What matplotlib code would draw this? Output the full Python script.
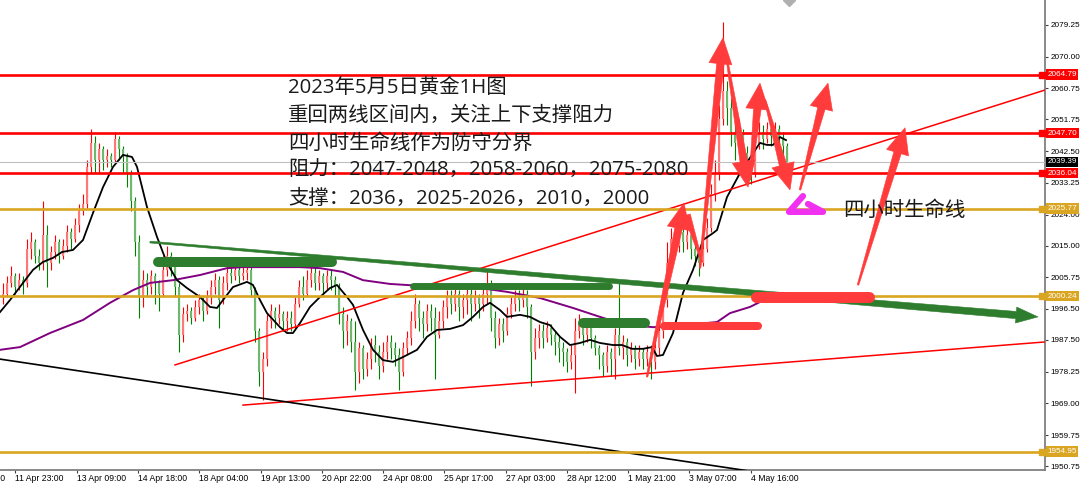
import numpy as np
import matplotlib
matplotlib.use("Agg")
import matplotlib.pyplot as plt
from matplotlib.patches import Polygon
from matplotlib.transforms import blended_transform_factory

plt.rcParams['font.family'] = ['Noto Sans CJK SC', 'DejaVu Sans']

# ---------------- data ----------------
first_open = 2000.0
close = [2001, 2004, 2006, 2003, 2005, 2004, 2014, 2016, 2012, 2010,
         2018, 2010, 2013, 2016, 2012, 2015, 2019, 2017, 2021, 2025,
         2027, 2038, 2045, 2040, 2043, 2040, 2041, 2040, 2046, 2043,
         2041, 2036, 2028, 2016, 2000, 2005, 2003, 2006, 2004, 2001,
         2008, 2012, 2009, 2003, 1989, 1995, 1996, 1994, 1997, 1999,
         1996, 2000, 2003, 2005, 1999, 2004, 2007, 2006, 2008, 2006,
         2007, 2008, 2002, 1990, 1978, 1982, 1993, 1996, 1994, 1995,
         1993, 1994, 1992, 1998, 2003, 2001, 2005, 2007, 2004, 2006,
         2004, 2006, 2005, 2003, 1995, 1990, 1993, 1987, 1978, 1985,
         1979, 1982, 1986, 1984, 1980, 1984, 1987, 1985, 1983, 1978,
         1985, 1988, 1993, 1998, 1994, 1992, 1996, 1994, 1989, 1993,
         1997, 2000, 1998, 2001, 1997, 1999, 2001, 1998, 2000, 1998,
         2001, 2004, 1994, 1988, 1992, 1990, 1995, 1998, 2000, 1999,
         2001, 1997, 1984, 1988, 1990, 1988, 1991, 1989, 1987, 1985,
         1984, 1981, 1983, 1990, 1992, 1989, 1991, 1988, 1985, 1983,
         1980, 1984, 1982, 1989, 1985, 1987, 1983, 1985, 1982, 1984,
         1982, 1984, 1981, 1985, 1990, 1999, 2010, 2017, 2015, 2019,
         2016, 2018, 2014, 2012, 2010, 2014, 2020, 2030, 2036, 2052,
         2060, 2055, 2048, 2045, 2048, 2042, 2038, 2036, 2044, 2048,
         2046, 2049, 2047, 2049, 2046, 2044, 2039.39]
high = [2004, 2006, 2009, 2007, 2007, 2006, 2017, 2019, 2017, 2014,
        2028, 2021, 2015, 2018, 2017, 2017, 2021, 2020, 2023, 2027,
        2030, 2040, 2049, 2047, 2045, 2044, 2043, 2042, 2048, 2047,
        2044, 2042, 2037, 2029, 2018, 2008, 2007, 2008, 2007, 2005,
        2012, 2015, 2013, 2010, 2004, 1997, 1998, 1997, 1999, 2001,
        2000, 2002, 2005, 2007, 2006, 2006, 2009, 2010, 2010, 2009,
        2009, 2010, 2009, 2003, 1991, 1984, 1995, 1998, 1997, 1998,
        1996, 1996, 1996, 2000, 2005, 2006, 2008, 2010, 2009, 2008,
        2007, 2008, 2008, 2006, 2004, 1997, 1995, 1994, 1993, 1987,
        1986, 1984, 1988, 1989, 1986, 1987, 1989, 1989, 1987, 1985,
        1987, 1990, 1996, 2001, 1999, 1996, 1998, 1998, 1997, 1996,
        1999, 2002, 2002, 2003, 2002, 2001, 2003, 2003, 2002, 2001,
        2003, 2008, 2005, 1996, 1994, 1994, 1997, 2000, 2002, 2002,
        2003, 2002, 1998, 1991, 1992, 1992, 1993, 1992, 1990, 1989,
        1987, 1985, 1986, 1994, 1995, 1994, 1993, 1992, 1989, 1986,
        1984, 1986, 1985, 1991, 2005, 1989, 1988, 1987, 1986, 1986,
        1985, 1986, 1986, 1987, 1993, 2003, 2016, 2020, 2020, 2021,
        2020, 2021, 2019, 2016, 2014, 2016, 2023, 2033, 2040, 2056,
        2080, 2063, 2058, 2050, 2052, 2049, 2044, 2040, 2046, 2051,
        2050, 2051, 2050, 2051, 2050, 2048, 2045]
low = [1998, 2000, 2003, 2001, 2002, 2001, 2003, 2011, 2010, 2008,
       2008, 2003, 2008, 2011, 2010, 2011, 2013, 2014, 2016, 2019,
       2024, 2026, 2036, 2036, 2036, 2037, 2038, 2038, 2039, 2040,
       2036, 2032, 2025, 2012, 1994, 1997, 2000, 2001, 1998, 1996,
       2000, 2006, 2006, 2000, 1984, 1987, 1993, 1992, 1993, 1995,
       1993, 1995, 1998, 2001, 1991, 1998, 2002, 2004, 2005, 2004,
       2005, 2005, 2000, 1987, 1974, 1970, 1980, 1991, 1991, 1992,
       1990, 1990, 1990, 1991, 1997, 1999, 2000, 2003, 2002, 2002,
       2001, 2002, 2002, 2000, 1992, 1985, 1986, 1984, 1973, 1975,
       1976, 1977, 1979, 1981, 1976, 1978, 1982, 1982, 1980, 1973,
       1977, 1983, 1986, 1991, 1990, 1988, 1990, 1990, 1976, 1988,
       1991, 1994, 1995, 1996, 1993, 1994, 1995, 1993, 1996, 1994,
       1996, 1998, 1990, 1985, 1986, 1987, 1989, 1994, 1996, 1996,
       1997, 1994, 1974, 1982, 1985, 1985, 1987, 1986, 1983, 1981,
       1980, 1978, 1979, 1972, 1988, 1986, 1987, 1985, 1983, 1979,
       1977, 1978, 1977, 1976, 1983, 1982, 1980, 1981, 1979, 1980,
       1979, 1980, 1976, 1979, 1983, 1988, 1997, 2008, 2012, 2013,
       2013, 2014, 2011, 2009, 2006, 2009, 2013, 2019, 2028, 2034,
       2050, 2050, 2044, 2040, 2043, 2038, 2034, 2033, 2035, 2043,
       2043, 2045, 2044, 2046, 2043, 2041, 2038]

# moving averages (bar index, price)
ma_fast_x = [-0.75, 1.75, 5, 7.5, 10, 12.5, 14.75, 17.5, 20, 22.5, 25, 27.5, 30, 32.25,
             33.5, 36, 38.5, 41, 43.5, 46, 49.25, 51.75, 53.5, 55, 57.5, 61, 62.5, 64.25,
             66, 69.25, 71, 72.5, 74.25, 76.75, 79.25, 81.75, 83.5, 86, 87.5, 90, 92.5,
             95, 97.5, 100, 103.5, 106, 108.5, 111.75, 115, 117.5, 120, 121.75, 124.25,
             126, 129.25, 131.75, 134.25, 136.75, 139.25, 141.75, 144.25, 146.75, 149.25,
             152.5, 154.75, 157.25, 160, 162.25, 163.5, 165, 167.5, 170, 172.5, 175,
             177.5, 178.5, 181, 184.25, 187.5, 189.25, 191, 192.5, 194.25, 195.75]
ma_fast_y = [1995.6, 1999.1, 2004.1, 2007.9, 2010.2, 2011.4, 2013.1, 2013.7, 2016.6, 2024.5,
             2032.0, 2037.9, 2041.4, 2040.8, 2037.9, 2026.2, 2017.5, 2009.9, 2004.9, 2002.6,
             2000.0, 1997.1, 1996.8, 1999.1, 2002.9, 2004.4, 2003.5, 1999.1, 1995.3, 1991.2,
             1989.5, 1989.5, 1992.4, 1997.1, 2000.0, 2002.6, 2003.5, 2000.0, 1997.7, 1990.4,
             1984.6, 1981.6, 1981.1, 1982.5, 1984.6, 1988.4, 1990.4, 1990.7, 1991.8, 1994.2,
             1997.1, 1998.3, 1996.2, 1994.2, 1994.8, 1994.2, 1992.7, 1991.8, 1988.4, 1986.0,
             1986.6, 1987.5, 1986.6, 1986.0, 1986.0, 1984.9, 1984.9, 1985.4, 1982.8, 1983.1,
             1989.5, 2001.2, 2007.9, 2016.6, 2018.6, 2019.5, 2029.1, 2036.1, 2041.9, 2044.9,
             2044.3, 2044.3, 2046.6, 2045.7]
ma_slow_x = [-0.75, 4.25, 11.75, 20, 26.75, 32.5, 36.75, 42.5, 49.25, 56, 60, 66, 74.25,
             79.25, 85, 90, 96.75, 105, 117.5, 126, 134.25, 142.5, 149.25, 155, 162.5,
             167.5, 178.5, 181.75, 186.75, 191.75]
ma_slow_y = [1984.6, 1985.4, 1989.5, 1993.3, 1998.3, 2002.0, 2004.1, 2004.9, 2006.4, 2008.4,
             2008.7, 2008.7, 2008.7, 2008.4, 2007.3, 2004.9, 2003.8, 2003.2, 2002.9, 2001.5,
             1999.7, 1996.8, 1994.2, 1992.1, 1991.2, 1991.5, 1992.7, 1995.3, 1997.1, 2000.0]

# horizontal levels
red_levels = [2064.79, 2047.70, 2036.04]
gold_levels = [2025.77, 2000.24, 1954.95]
last_price = 2039.39

# trend lines (bar index, price)
red_upper_x, red_upper_y = [43, 260.5], [1980.2, 2060.3]
red_lower_x, red_lower_y = [60, 260.5], [1968.5, 1986.9]
black_tl_x, black_tl_y = [-0.75, 190], [1981.9, 1948.7]
green_arrow_x, green_arrow_y = [36.75, 258.75], [2016.0, 1994.2]

# highlighter marks: (x start, x end, price)
green_marks = [(38.75, 82.25, 2010.2), (102.5, 151.5, 2003.2), (145.0, 160.5, 1992.4)]
green_marks_w = [7.2, 5.0, 7.2]
red_marks = [(165.25, 188.75, 1991.5), (188.25, 216.5, 2000.0)]
red_marks_w = [5.8, 7.9]

# hand drawn red arrows: tail (x, y) -> tip (x, y), has head
red_arrows = [((161.0, 1976.7), (170.25, 2027.4), True),
              ((171.0, 2023.9), (174.75, 2010.2), False),
              ((174.25, 2008.4), (180.0, 2075.5), True),
              ((181.0, 2069.1), (186.25, 2032.0), True),
              ((186.75, 2034.1), (189.25, 2062.3), True),
              ((190.5, 2057.4), (196.75, 2031.2), True),
              ((199.25, 2031.2), (206.25, 2062.3), True),
              ((213.75, 2003.5), (225.5, 2049.3), True)]

magenta_x = [200.0, 196.5, 205.0, 201.25]
magenta_y = [2029.4, 2024.8, 2024.8, 2027.1]

y_ticks = [2079.25, 2070.00, 2060.75, 2051.75, 2042.50, 2033.25, 2024.00, 2015.00,
           2005.75, 1996.50, 1987.50, 1978.25, 1969.00, 1959.75, 1950.75]
x_tick_pos = [3, 18.5, 33.75, 49, 64.5, 79.75, 95, 110.25, 125.75, 141, 156.25, 171.5, 187]
x_tick_labels = ["11 Apr 23:00", "13 Apr 09:00", "14 Apr 18:00", "18 Apr 04:00",
                 "19 Apr 13:00", "20 Apr 22:00", "24 Apr 08:00", "25 Apr 17:00",
                 "27 Apr 03:00", "28 Apr 12:00", "1 May 21:00", "3 May 07:00",
                 "4 May 16:00"]
prev_tick_pos, prev_tick_label = -12.25, "10 Apr 13:00"

notes = ["2023年5月5日黄金1H图",
         "重回两线区间内，关注上下支撑阻力",
         "四小时生命线作为防守分界",
         "阻力：2047-2048，2058-2060，2075-2080",
         "支撑：2036，2025-2026，2010，2000"]
notes_x = 71.25
notes_y = [2060.9, 2052.7, 2044.6, 2036.6, 2028.5]
label_text = "四小时生命线"
label_pos = (210.0, 2025.1)

# ---------------- figure ----------------
W, H = 1080, 483
fig = plt.figure(figsize=(W / 100, H / 100), dpi=100)
fig.patch.set_facecolor('white')
ax = fig.add_axes([0, 13 / H, 1045 / W, 470 / H])
ax.set_xlim(-0.75, 260.5)
ax.set_ylim(1949.59, 2086.53)
ax.set_facecolor('white')

TICKFONT = 'Liberation Sans'
FS = 6.2
FSY = 5.9
NOTEFONT = ['Open Sans', 'Noto Sans CJK SC', 'DejaVu Sans']
NOTESIZE = 14.7

# candles
c = np.array(close, float)
o = np.r_[first_open, c[:-1]]
hi = np.array(high, float)
lo = np.array(low, float)
xb = np.arange(len(c))
up = c >= o
wick_col = np.where(up, '#FF0000', '#008000')
body_col = np.where(up, '#FF7878', '#6DB86D')
ax.vlines(xb, lo, hi, colors=wick_col, lw=0.8, zorder=2)
ax.vlines(xb, np.minimum(o, c), np.maximum(o, c), colors=body_col, lw=1.5, zorder=2.1)

# moving averages
ax.plot(ma_slow_x, ma_slow_y, color='#800080', lw=1.4, zorder=3)
ax.plot(ma_fast_x, ma_fast_y, color='black', lw=1.3, zorder=3.1)

# trend lines
ax.plot(red_upper_x, red_upper_y, color='#FF0000', lw=1.1, zorder=3.5)
ax.plot(red_lower_x, red_lower_y, color='#FF0000', lw=1.1, zorder=3.5)
ax.plot(black_tl_x, black_tl_y, color='black', lw=1.2, zorder=3.5)

# horizontal levels
ax.axhline(last_price, color='#C0C0C0', lw=0.8, zorder=3.6)
for lv in red_levels:
    ax.axhline(lv, color='#FF0000', lw=1.9, zorder=4)
for lv in gold_levels:
    ax.axhline(lv, color='#DAA520', lw=1.9, zorder=4)


def tapered(p0, p1, w0, w1, head_len, head_w, color, z):
    t, p = ax.transData.transform([p0, p1])
    d = p - t
    L = np.hypot(*d)
    u = d / L
    n = np.array([-u[1], u[0]])
    if head_len > 0:
        hb = p - u * head_len
        pts = [t + n * w0, hb + n * w1, hb + n * head_w, p,
               hb - n * head_w, hb - n * w1, t - n * w0]
    else:
        pts = [t + n * w0, p + n * w1, p - n * w1, t - n * w0]
    data = ax.transData.inverted().transform(pts)
    ax.add_patch(Polygon(data, closed=True, fc=color, ec=color, lw=0.4, zorder=z))


# green descending arrow (thin -> thick)
tapered((green_arrow_x[0], green_arrow_y[0]), (green_arrow_x[1], green_arrow_y[1]),
        0.9, 3.6, 22, 8, '#2E7D2E', 5)

for (x0, x1, pv), w in zip(green_marks, green_marks_w):
    ax.plot([x0, x1], [pv, pv], color='#2E7D2E', lw=w, solid_capstyle='round', zorder=5.1)
for (x0, x1, pv), w in zip(red_marks, red_marks_w):
    ax.plot([x0, x1], [pv, pv], color='#FF3B3B', lw=w, solid_capstyle='round', zorder=5.2)

# red zigzag arrows
for (p0, p1, head) in red_arrows:
    if head:
        tapered(p0, p1, 0.8, 3.8, 26, 11.5, '#FF3B3B', 6)
    else:
        tapered(p0, p1, 3.4, 0.6, 0, 0, '#FF3B3B', 6)

ax.plot(magenta_x, magenta_y, color='#F032F0', lw=4.5, solid_capstyle='round',
        solid_joinstyle='round', zorder=6.2)

# text notes
for t, yv in zip(notes, notes_y):
    ax.text(notes_x, yv, t, fontsize=NOTESIZE, family=NOTEFONT, color='#1A1A1A',
            va='center', ha='left', zorder=7)
ax.text(label_pos[0], label_pos[1], label_text, fontsize=NOTESIZE, family=NOTEFONT,
        color='#1A1A1A', va='center', ha='left', zorder=7)

# axes styling
for s in ['left', 'top']:
    ax.spines[s].set_visible(False)
for s in ['right', 'bottom']:
    ax.spines[s].set_color('#808080')
    ax.spines[s].set_linewidth(1.3)
ax.yaxis.tick_right()
ax.set_yticks(y_ticks)
ax.set_yticklabels([f"{v:.2f}" for v in y_ticks])
ax.set_xticks(x_tick_pos)
ax.set_xticklabels(x_tick_labels, ha='left')
ax.tick_params(axis='both', direction='out', width=0.8, color='#404040',
               labelcolor='black', labelfontfamily=TICKFONT)
ax.tick_params(axis='x', length=2.2, pad=0.6, labelsize=FS)
ax.tick_params(axis='y', length=2.5, pad=1.2, labelsize=FSY)
ax.text(prev_tick_pos + 0.5, -0.0075, prev_tick_label,
        transform=blended_transform_factory(ax.transData, ax.transAxes),
        fontsize=FS, family=TICKFONT, ha='left', va='top', clip_on=False)

# price tags on right axis
trans = blended_transform_factory(ax.transAxes, ax.transData)
tags = [(lv, '#FF0000') for lv in red_levels] + [(lv, '#DAA520') for lv in gold_levels] + [(last_price, 'black')]
for lv, col in tags:
    ax.text(1.0022, lv, f"{lv:.2f}", transform=trans, fontsize=FSY, family=TICKFONT,
            color='white', va='center', ha='left', clip_on=False, zorder=8,
            bbox=dict(boxstyle='square,pad=0.2', fc=col, ec='none'))
    if col != 'black':
        ax.plot([0.997], [lv], marker='s', ms=4, mfc=col, mec=col, transform=trans,
                clip_on=False, zorder=8)

# chart-shift marker at top
ax.plot([196.5], [2086.53], marker='D', ms=6, color='#B0B0B0', clip_on=True, zorder=8)

fig.savefig('out.png', dpi=100, facecolor='white')
